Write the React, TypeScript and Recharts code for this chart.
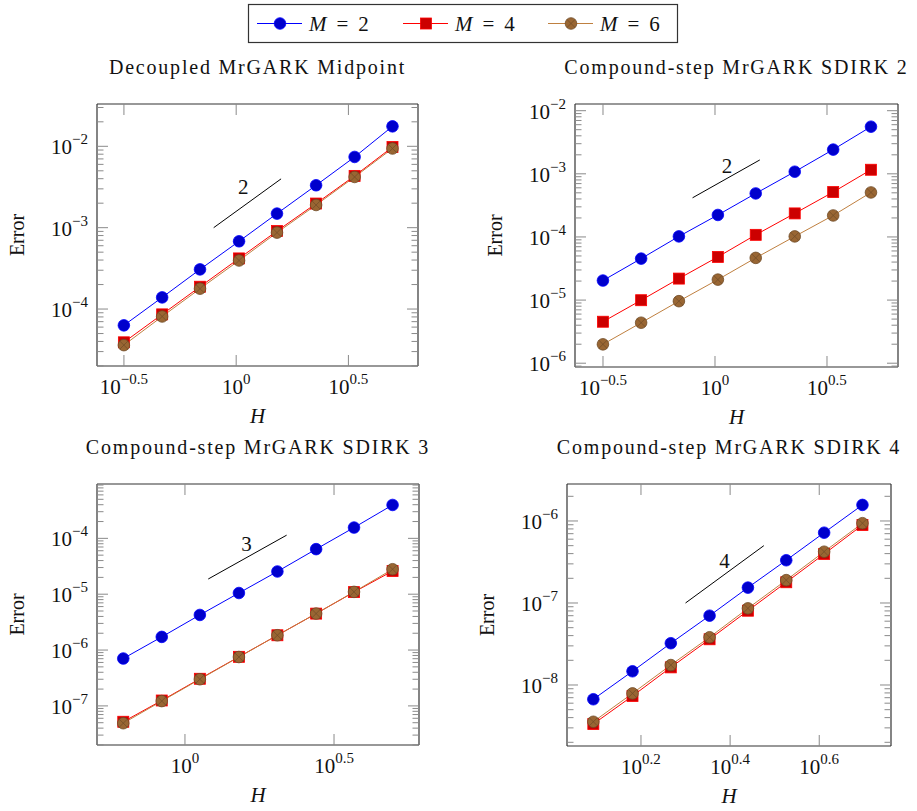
import React from "react";
import { LineChart, Line, XAxis, YAxis, ReferenceLine, ReferenceDot } from "recharts";

const hMidpoint = [0.316, 0.468, 0.69, 1.03, 1.52, 2.27, 3.37, 4.97];
const hSdirk2 = [0.316, 0.468, 0.69, 1.03, 1.52, 2.27, 3.37, 4.97];
const hSdirk3 = [0.621, 0.836, 1.122, 1.517, 2.042, 2.754, 3.69, 4.97];
const hSdirk4 = [1.239, 1.517, 1.849, 2.259, 2.754, 3.357, 4.083, 4.977];

// errors per M
const midM2 = [6.3e-5, 1.39e-4, 3.07e-4, 6.8e-4, 1.49e-3, 3.32e-3, 7.4e-3, 1.76e-2];
const midM4 = [3.9e-5, 8.6e-5, 1.88e-4, 4.19e-4, 9.1e-4, 1.98e-3, 4.33e-3, 9.8e-3];
const midM6 = [3.6e-5, 8.1e-5, 1.78e-4, 3.95e-4, 8.7e-4, 1.9e-3, 4.2e-3, 9.4e-3];

const s2M2 = [2.04e-5, 4.54e-5, 1.02e-4, 2.23e-4, 4.89e-4, 1.08e-3, 2.42e-3, 5.58e-3];
const s2M4 = [4.54e-6, 9.95e-6, 2.19e-5, 4.83e-5, 1.08e-4, 2.36e-4, 5.14e-4, 1.16e-3];
const s2M6 = [1.99e-6, 4.38e-6, 9.61e-6, 2.11e-5, 4.66e-5, 1.02e-4, 2.19e-4, 5.07e-4];

const s3M2 = [7.05e-7, 1.72e-6, 4.25e-6, 1.05e-5, 2.55e-5, 6.41e-5, 1.56e-4, 3.96e-4];
const s3M4 = [5.2e-8, 1.25e-7, 3.06e-7, 7.56e-7, 1.84e-6, 4.49e-6, 1.09e-5, 2.6e-5];
const s3M6 = [4.9e-8, 1.22e-7, 3.0e-7, 7.5e-7, 1.84e-6, 4.5e-6, 1.1e-5, 2.8e-5];

const s4M2 = [6.7e-9, 1.47e-8, 3.23e-8, 7.0e-8, 1.54e-7, 3.32e-7, 7.2e-7, 1.57e-6];
const s4M4 = [3.34e-9, 7.34e-9, 1.64e-8, 3.61e-8, 8.05e-8, 1.79e-7, 3.96e-7, 8.93e-7];
const s4M6 = [3.56e-9, 7.9e-9, 1.75e-8, 3.82e-8, 8.6e-8, 1.9e-7, 4.22e-7, 9.4e-7];

// order triangles (two end points) and their labels
const slopeMid = [{ h: 0.794, e: 1e-3 }, { h: 1.585, e: 3.98e-3 }];
const slopeS2 = [{ h: 0.794, e: 4.17e-4 }, { h: 1.585, e: 1.66e-3 }];
const slopeS3 = [{ h: 1.197, e: 1.87e-5 }, { h: 2.193, e: 1.14e-4 }];
const slopeS4 = [{ h: 1.995, e: 1e-7 }, { h: 2.99, e: 5.0e-7 }];
const slopeLabels = [
  { h: 1.074, e: 3.14e-3, text: "2" },
  { h: 1.13, e: 1.34e-3, text: "2" },
  { h: 1.61, e: 7.98e-5, text: "3" },
  { h: 2.44, e: 3.28e-7, text: "4" },
];

const titles = [
  "Decoupled MrGARK Midpoint",
  "Compound-step MrGARK SDIRK 2",
  "Compound-step MrGARK SDIRK 3",
  "Compound-step MrGARK SDIRK 4",
];

// tick values and their exponent labels
const xTicksWide = [0.3162, 1, 3.1623];
const xLabelsWide = ["−0.5", "0", "0.5"];
const xTicksS3 = [1, 3.1623];
const xLabelsS3 = ["0", "0.5"];
const xTicksS4 = [1.5849, 2.5119, 3.9811];
const xLabelsS4 = ["0.2", "0.4", "0.6"];

const yMajorMid = [1e-4, 1e-3, 1e-2];
const yMajorS2 = [1e-6, 1e-5, 1e-4, 1e-3, 1e-2];
const yMajorS3 = [1e-7, 1e-6, 1e-5, 1e-4];
const yMajorS4 = [1e-8, 1e-7, 1e-6];

const FONT = "'Liberation Serif', 'DejaVu Serif', serif";
const BLUE = "#0000ff";
const RED = "#ff0000";
const BROWN = "#bf8040";

const zip = (h: number[], e: number[]) => h.map((v, i) => ({ h: v, e: e[i] }));

function minorTicks(majors: number[], lo: number, hi: number) {
  const out: number[] = [];
  const all = [majors[0] / 10, ...majors];
  all.forEach((m) => {
    for (let k = 1; k <= 9; k++) {
      const v = m * k;
      if (v >= lo && v <= hi) out.push(v);
    }
  });
  return out;
}

function CircleMark(props: any) {
  const { cx, cy } = props;
  if (cx == null || cy == null) return null;
  return <circle key={props.key} cx={cx} cy={cy} r={5.8} fill="#0000cc" stroke={BLUE} strokeWidth={0.8} />;
}

function SquareMark(props: any) {
  const { cx, cy } = props;
  if (cx == null || cy == null) return null;
  return <rect key={props.key} x={cx - 5.5} y={cy - 5.5} width={11} height={11} fill="#cc0000" stroke={RED} strokeWidth={0.8} />;
}

function OtimesMark(props: any) {
  const { cx, cy } = props;
  if (cx == null || cy == null) return null;
  const d = 5.8 * 0.7071;
  return (
    <g key={props.key}>
      <circle cx={cx} cy={cy} r={5.8} fill="#996633" stroke="#6e4a26" strokeWidth={0.8} />
      <line x1={cx - d} y1={cy - d} x2={cx + d} y2={cy + d} stroke="#6e4a26" strokeWidth={0.7} />
      <line x1={cx - d} y1={cy + d} x2={cx + d} y2={cy - d} stroke="#6e4a26" strokeWidth={0.7} />
    </g>
  );
}

interface Box {
  left: number;
  top: number;
  right: number;
  bottom: number;
}

interface PanelProps {
  box: Box;
  h: number[];
  m2: number[];
  m4: number[];
  m6: number[];
  xTicks: number[];
  xLabels: string[];
  yMajor: number[];
  xDomain: [number, number];
  yDomain: [number, number];
  slope: { h: number; e: number }[];
  slopeLabel: { h: number; e: number; text: string };
}

const ML = 37, MT = 60, MR = 20, MB = 30, YW = 60, XH = 30;

function Panel(p: PanelProps) {
  const x0 = p.box.left - (ML + YW);
  const y0 = p.box.top - MT;
  const w = p.box.right - x0 + MR;
  const h = p.box.bottom - y0 + MB + XH;
  const pl = ML + YW, pr = w - MR, pt = MT, pb = h - MB - XH;
  const yTicks = minorTicks(p.yMajor, p.yDomain[0], p.yDomain[1]);

  const yTick = (t: any) => {
    const v = t.payload.value;
    const lg = Math.log10(v);
    const major = Math.abs(lg - Math.round(lg)) < 1e-6;
    const len = major ? 11 : 6.5;
    const exp = Math.round(lg);
    return (
      <g>
        <line x1={pl} x2={pl + len} y1={t.y} y2={t.y} stroke="#8a8a8a" strokeWidth={1} />
        <line x1={pr - len} x2={pr} y1={t.y} y2={t.y} stroke="#8a8a8a" strokeWidth={1} />
        {major && (
          <text x={pl - 9} y={t.y + 8} textAnchor="end" fontFamily={FONT} fontSize={21} fill="#111">
            10
            <tspan fontSize={15} dy={-10}>
              {exp < 0 ? "−" + Math.abs(exp) : String(exp)}
            </tspan>
          </text>
        )}
      </g>
    );
  };

  const xTick = (t: any) => {
    const idx = p.xTicks.findIndex((v) => Math.abs(v - t.payload.value) < 1e-6);
    return (
      <g>
        <line x1={t.x} x2={t.x} y1={pb} y2={pb - 11} stroke="#8a8a8a" strokeWidth={1} />
        <line x1={t.x} x2={t.x} y1={pt} y2={pt + 11} stroke="#8a8a8a" strokeWidth={1} />
        <text x={t.x} y={pb + 28} textAnchor="middle" fontFamily={FONT} fontSize={21} fill="#111">
          10
          <tspan fontSize={15} dy={-10}>
            {idx >= 0 ? p.xLabels[idx] : ""}
          </tspan>
        </text>
      </g>
    );
  };

  return (
    <div style={{ position: "absolute", left: x0, top: y0 }}>
      <LineChart width={w} height={h} margin={{ top: MT, right: MR, bottom: MB, left: ML }}>
        <XAxis
          dataKey="h"
          type="number"
          scale="log"
          domain={p.xDomain}
          allowDataOverflow
          ticks={p.xTicks}
          interval={0}
          tick={xTick}
          tickLine={false}
          axisLine={false}
          height={XH}
        />
        <YAxis
          dataKey="e"
          type="number"
          scale="log"
          domain={p.yDomain}
          allowDataOverflow
          ticks={yTicks}
          interval={0}
          tick={yTick}
          tickLine={false}
          axisLine={false}
          width={YW}
        />
        <ReferenceLine x={p.xDomain[0]} stroke="#333" strokeWidth={1.2} />
        <ReferenceLine x={p.xDomain[1]} stroke="#333" strokeWidth={1.2} />
        <ReferenceLine y={p.yDomain[0]} stroke="#333" strokeWidth={1.2} />
        <ReferenceLine y={p.yDomain[1]} stroke="#333" strokeWidth={1.2} />
        <Line data={p.slope} dataKey="e" stroke="#000" strokeWidth={1} dot={false} isAnimationActive={false} />
        <ReferenceDot
          x={p.slopeLabel.h}
          y={p.slopeLabel.e}
          r={0}
          shape={(s: any) => (
            <text x={s.cx} y={s.cy} textAnchor="middle" dominantBaseline="central" fontFamily={FONT} fontSize={21} fill="#111">
              {p.slopeLabel.text}
            </text>
          )}
        />
        <Line data={zip(p.h, p.m2)} dataKey="e" stroke={BLUE} strokeWidth={1} dot={CircleMark} isAnimationActive={false} />
        <Line data={zip(p.h, p.m4)} dataKey="e" stroke={RED} strokeWidth={1} dot={SquareMark} isAnimationActive={false} />
        <Line data={zip(p.h, p.m6)} dataKey="e" stroke={BROWN} strokeWidth={1} dot={OtimesMark} isAnimationActive={false} />
      </LineChart>
    </div>
  );
}

const boxes: Box[] = [
  { left: 97, top: 104, right: 418, bottom: 366 },
  { left: 575, top: 104, right: 898, bottom: 367 },
  { left: 97, top: 484, right: 419, bottom: 745 },
  { left: 567, top: 484, right: 891, bottom: 746 },
];

const lg = (x: number) => Math.pow(10, x);

function LegendEntry({ x, color, mark, label }: { x: number; color: string; mark: string; label: string }) {
  const cx = x + 23;
  const cy = 23.5;
  const M = mark === "circle" ? CircleMark : mark === "square" ? SquareMark : OtimesMark;
  return (
    <g>
      <line x1={x} x2={x + 45} y1={cy} y2={cy} stroke={color} strokeWidth={1} />
      <M cx={cx} cy={cy} />
      <text x={x + 52} y={cy + 7} fontFamily={FONT} fontSize={21} fill="#111">
        <tspan fontStyle="italic">M</tspan>
        <tspan dx={10}>=</tspan>
        <tspan dx={10}>{label}</tspan>
      </text>
    </g>
  );
}

export default function App() {
  return (
    <div style={{ position: "absolute", left: 0, top: 0, width: 917, height: 811, background: "#fff" }}>
      <Panel box={boxes[0]} h={hMidpoint} m2={midM2} m4={midM4} m6={midM6} xTicks={xTicksWide} xLabels={xLabelsWide}
        yMajor={yMajorMid} xDomain={[lg(-0.62), lg(0.81)]} yDomain={[lg(-4.7), lg(-1.48)]} slope={slopeMid} slopeLabel={slopeLabels[0]} />
      <Panel box={boxes[1]} h={hSdirk2} m2={s2M2} m4={s2M4} m6={s2M6} xTicks={xTicksWide} xLabels={xLabelsWide}
        yMajor={yMajorS2} xDomain={[lg(-0.625), lg(0.817)]} yDomain={[lg(-6.06), lg(-1.894)]} slope={slopeS2} slopeLabel={slopeLabels[1]} />
      <Panel box={boxes[2]} h={hSdirk3} m2={s3M2} m4={s3M4} m6={s3M6} xTicks={xTicksS3} xLabels={xLabelsS3}
        yMajor={yMajorS3} xDomain={[lg(-0.295), lg(0.785)]} yDomain={[lg(-7.7), lg(-3.027)]} slope={slopeS3} slopeLabel={slopeLabels[2]} />
      <Panel box={boxes[3]} h={hSdirk4} m2={s4M2} m4={s4M4} m6={s4M6} xTicks={xTicksS4} xLabels={xLabelsS4}
        yMajor={yMajorS4} xDomain={[lg(0.034), lg(0.761)]} yDomain={[lg(-8.744), lg(-5.549)]} slope={slopeS4} slopeLabel={slopeLabels[3]} />
      <svg width={917} height={811} style={{ position: "absolute", left: 0, top: 0, pointerEvents: "none" }}>
        <rect x={248.5} y={4.5} width={429} height={38} fill="none" stroke="#333" strokeWidth={1.2} />
        <LegendEntry x={257} color={BLUE} mark="circle" label="2" />
        <LegendEntry x={403} color={RED} mark="square" label="4" />
        <LegendEntry x={548} color={BROWN} mark="otimes" label="6" />
        {boxes.map((b, i) => {
          const cx = (b.left + b.right) / 2;
          const cy = (b.top + b.bottom) / 2;
          return (
            <g key={i}>
              <text x={cx} y={b.top - 37} textAnchor="middle" dominantBaseline="central" fontFamily={FONT} fontSize={20} letterSpacing={1.8} fill="#111">
                {titles[i]}
              </text>
              <text x={cx} y={b.bottom + 50} textAnchor="middle" dominantBaseline="central" fontFamily={FONT} fontSize={21} fontStyle="italic" fill="#111">
                H
              </text>
              <text transform={`translate(${b.left - 80},${cy}) rotate(-90)`} textAnchor="middle" dominantBaseline="central" fontFamily={FONT} fontSize={20} fill="#111">
                Error
              </text>
            </g>
          );
        })}
      </svg>
    </div>
  );
}
